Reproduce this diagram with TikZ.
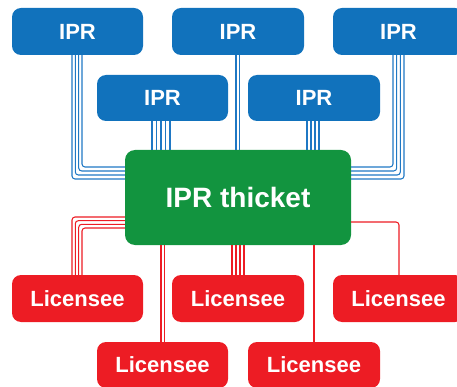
\documentclass[tikz,border=0pt]{standalone}
\usepackage{fontspec}
\setmainfont{Liberation Sans}
\definecolor{iprblue}{HTML}{1172BC}
\definecolor{lineblue}{HTML}{1F78C4}
\definecolor{thgreen}{HTML}{12943F}
\definecolor{licred}{HTML}{ED1C24}
\definecolor{linered}{HTML}{ED1C24}
\tikzset{
  box/.style={rectangle, rounded corners=9pt, inner sep=0pt, text=white,
    font=\fontsize{22}{24}\selectfont\bfseries},
  iprbox/.style={box, fill=iprblue, minimum height=47pt},
  licbox/.style={box, fill=licred, minimum height=47pt},
  thbox/.style={box, fill=thgreen, rounded corners=10pt, font=\fontsize{28}{30}\selectfont\bfseries},
  bl/.style={draw=lineblue, line width=1.05pt, rounded corners=3pt},
  rl/.style={draw=linered, line width=1.05pt, rounded corners=3pt},
}
\begin{document}
\begin{tikzpicture}[x=1pt,y=-1pt]
\useasboundingbox (0,0) rectangle (457,387);
\clip (0,0) rectangle (457,387);
% IPR boxes
\node[iprbox, minimum width=131pt] (ipr1) at (77.5,31.5) {IPR};
\node[iprbox, minimum width=132pt] (ipr2) at (238,31.5) {IPR};
\node[iprbox, minimum width=131pt] (ipr3) at (398.5,31.5) {IPR};
\node[iprbox, minimum width=131pt, minimum height=46pt] (ipr4) at (162.5,98) {IPR};
\node[iprbox, minimum width=132pt, minimum height=46pt] (ipr5) at (314,98) {IPR};
% thicket
\node[thbox, minimum width=226pt, minimum height=95pt] (th) at (238,197.5) {IPR thicket};
% licensees
\node[licbox, minimum width=131pt] (lic1) at (77.5,298.5) {Licensee};
\node[licbox, minimum width=132pt] (lic2) at (238,298.5) {Licensee};
\node[licbox, minimum width=131pt] (lic3) at (398.5,298.5) {Licensee};
\node[licbox, minimum width=131pt, minimum height=46pt] (lic4) at (162.5,365) {Licensee};
\node[licbox, minimum width=132pt, minimum height=46pt] (lic5) at (314,365) {Licensee};
% blue connectors
\foreach \x/\y in {72/179, 75.3/175, 78.7/171, 82/167}
  \draw[bl] (ipr1.south -| \x,0) |- (th.west |- 0,\y);
\foreach \x/\y in {393/167, 396.7/171, 400.3/175, 404/179}
  \draw[bl] (ipr3.south -| \x,0) |- (th.east |- 0,\y);
\foreach \x in {236, 239.5}
  \draw[bl] (ipr2.south -| \x,0) -- (th.north -| \x,0);
\foreach \x in {152, 156.5, 161, 165.5, 170}
  \draw[bl] (ipr4.south -| \x,0) -- (th.north -| \x,0);
\foreach \x in {307, 311, 315, 319}
  \draw[bl] (ipr5.south -| \x,0) -- (th.north -| \x,0);
% red connectors
\foreach \x/\y in {72/217, 75.3/220.7, 78.7/224.3, 82/228}
  \draw[rl] (th.west |- 0,\y) -| (lic1.north -| \x,0);
\foreach \x in {161, 164.5}
  \draw[rl] (th.south -| \x,0) -- (lic4.north -| \x,0);
\foreach \x in {232, 236, 240, 244}
  \draw[rl] (th.south -| \x,0) -- (lic2.north -| \x,0);
\draw[rl] (th.south -| 314,0) -- (lic5.north -| 314,0);
\draw[rl] (th.east |- 0,222) -| (lic3.north -| 399,0);
\end{tikzpicture}
\end{document}
